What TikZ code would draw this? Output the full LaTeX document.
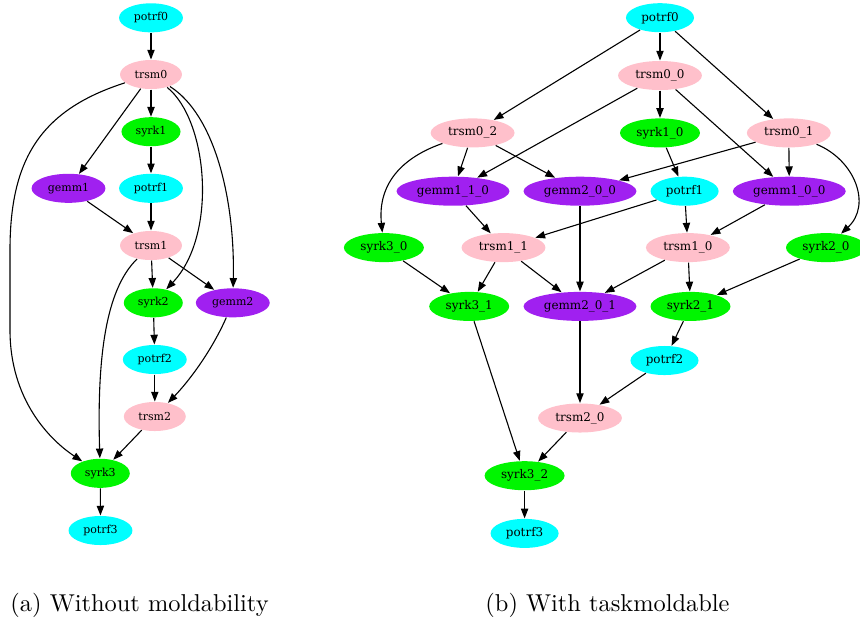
\documentclass[tikz,border=0pt]{standalone}
\usepackage{fontspec}
\newfontfamily\taskfont{DejaVu Serif}
\usetikzlibrary{shapes.geometric, arrows.meta}

\definecolor{potrfcolor}{RGB}{0,255,255}
\definecolor{trsmcolor}{RGB}{255,192,203}
\definecolor{syrkcolor}{RGB}{0,245,0}
\definecolor{gemmcolor}{RGB}{160,32,240}

\tikzstyle{task} = [ellipse, inner sep = 0pt, minimum height = 11.9pt]
\tikzstyle{potrf} = [task, fill = potrfcolor]
\tikzstyle{trsm} = [task, fill = trsmcolor]
\tikzstyle{syrk} = [task, fill = syrkcolor]
\tikzstyle{gemm} = [task, fill = gemmcolor]
\tikzstyle{arrow} = [line width = 0.45pt, -{Triangle[length = 4pt, width = 3pt]}]

\begin{document}
\begin{tikzpicture}[x = 0.41pt, y = -0.41pt]

\useasboundingbox (0,0) rectangle (860,624);

% (a) without moldability
\begin{scope}[font = \taskfont\fontsize{4.5}{5}\selectfont,
	potrf/.append style = {minimum width = 26.2pt},
	trsm/.append style = {minimum width = 25.4pt},
	syrk/.append style = {minimum width = 24.2pt},
	gemm/.append style = {minimum width = 30.3pt}]

\node (Apotrf0) [potrf] at (151,17.8) {potrf0};
\node (Atrsm0) [trsm] at (151,74.5) {trsm0};
\node (Asyrk1) [syrk] at (151,131.7) {syrk1};
\node (Agemm1) [gemm] at (68.5,188.3) {gemm1};
\node (Apotrf1) [potrf] at (151,188.3) {potrf1};
\node (Atrsm1) [trsm] at (151,245.5) {trsm1};
\node (Asyrk2) [syrk] at (153.3,302.8) {syrk2};
\node (Agemm2) [gemm] at (232.8,302.8) {gemm2};
\node (Apotrf2) [potrf] at (154.8,359.5) {potrf2};
\node (Atrsm2) [trsm] at (154.8,416.5) {trsm2};
\node (Asyrk3) [syrk] at (100.3,473.3) {syrk3};
\node (Apotrf3) [potrf] at (100.5,530.5) {potrf3};

\draw [arrow] (Apotrf0) -- (Atrsm0);
\draw [arrow] (Atrsm0) -- (Asyrk1);
\draw [arrow] (Atrsm0) -- (Agemm1);
\draw [arrow] (Atrsm0) .. controls (40,110) and (10,160) .. (10,250)
	-- (10,330) .. controls (10,400) and (50,440) .. (Asyrk3);
\draw [arrow] (Atrsm0) .. controls (208,120) and (218,235) .. (Asyrk2);
\draw [arrow] (Atrsm0) .. controls (215,115) and (235,200) .. (Agemm2);
\draw [arrow] (Asyrk1) -- (Apotrf1);
\draw [arrow] (Agemm1) -- (Atrsm1);
\draw [arrow] (Apotrf1) -- (Atrsm1);
\draw [arrow] (Atrsm1) -- (Asyrk2);
\draw [arrow] (Atrsm1) -- (Agemm2);
\draw [arrow] (Atrsm1) .. controls (105,290) and (97,360) .. (Asyrk3);
\draw [arrow] (Asyrk2) -- (Apotrf2);
\draw [arrow] (Apotrf2) -- (Atrsm2);
\draw [arrow] (Agemm2) .. controls (212,350) and (190,380) .. (Atrsm2);
\draw [arrow] (Atrsm2) -- (Asyrk3);
\draw [arrow] (Asyrk3) -- (Apotrf3);
\end{scope}

% (b) with taskmoldable
\begin{scope}[font = \taskfont\fontsize{4.9}{5.5}\selectfont,
	potrf/.append style = {minimum width = 27.9pt},
	trsm/.append style = {minimum width = 34.4pt},
	syrk/.append style = {minimum width = 32.8pt},
	gemm/.append style = {minimum width = 46.3pt}]

\node (Bpotrf0) [potrf] at (660,17.7) {potrf0};
\node (Btrsm00) [trsm] at (660,75.5) {trsm0\_0};
\node (Btrsm02) [trsm] at (472.6,132.9) {trsm0\_2};
\node (Bsyrk10) [syrk] at (660,132.9) {syrk1\_0};
\node (Btrsm01) [trsm] at (788.8,132.9) {trsm0\_1};
\node (Bgemm110) [gemm] at (453,191.2) {gemm1\_1\_0};
\node (Bgemm200) [gemm] at (580,191.2) {gemm2\_0\_0};
\node (Bpotrf1) [potrf] at (684.6,191.2) {potrf1};
\node (Bgemm100) [gemm] at (789.3,191.2) {gemm1\_0\_0};
\node (Bsyrk30) [syrk] at (383.9,247.6) {syrk3\_0};
\node (Btrsm11) [trsm] at (503.5,247.6) {trsm1\_1};
\node (Btrsm10) [trsm] at (687.9,247.6) {trsm1\_0};
\node (Bsyrk20) [syrk] at (826,247.6) {syrk2\_0};
\node (Bsyrk31) [syrk] at (469.2,306.4) {syrk3\_1};
\node (Bgemm201) [gemm] at (580,306.4) {gemm2\_0\_1};
\node (Bsyrk21) [syrk] at (690.5,306.4) {syrk2\_1};
\node (Bpotrf2) [potrf] at (664.5,360.5) {potrf2};
\node (Btrsm20) [trsm] at (580,418) {trsm2\_0};
\node (Bsyrk32) [syrk] at (524.6,475.7) {syrk3\_2};
\node (Bpotrf3) [potrf] at (524.6,533.4) {potrf3};

\draw [arrow] (Bpotrf0) -- (Btrsm02);
\draw [arrow] (Bpotrf0) -- (Btrsm00);
\draw [arrow] (Bpotrf0) -- (Btrsm01);
\draw [arrow] (Btrsm00) -- (Bgemm110);
\draw [arrow] (Btrsm00) -- (Bsyrk10);
\draw [arrow] (Btrsm00) -- (Bgemm100);
\draw [arrow] (Btrsm02) -- (Bgemm110);
\draw [arrow] (Btrsm02) -- (Bgemm200);
\draw [arrow] (Btrsm02) .. controls (395,160) and (378,190) .. (Bsyrk30);
\draw [arrow] (Btrsm01) -- (Bgemm200);
\draw [arrow] (Btrsm01) -- (Bgemm100);
\draw [arrow] (Btrsm01) .. controls (855,160) and (872,205) .. (Bsyrk20);
\draw [arrow] (Bsyrk10) -- (Bpotrf1);
\draw [arrow] (Bgemm110) -- (Btrsm11);
\draw [arrow] (Bgemm200) -- (Bgemm201);
\draw [arrow] (Bpotrf1) -- (Btrsm11);
\draw [arrow] (Bpotrf1) -- (Btrsm10);
\draw [arrow] (Bgemm100) -- (Btrsm10);
\draw [arrow] (Bsyrk30) -- (Bsyrk31);
\draw [arrow] (Btrsm11) -- (Bsyrk31);
\draw [arrow] (Btrsm11) -- (Bgemm201);
\draw [arrow] (Btrsm10) -- (Bgemm201);
\draw [arrow] (Btrsm10) -- (Bsyrk21);
\draw [arrow] (Bsyrk20) -- (Bsyrk21);
\draw [arrow] (Bsyrk31) -- (Bsyrk32);
\draw [arrow] (Bgemm201) -- (Btrsm20);
\draw [arrow] (Bsyrk21) -- (Bpotrf2);
\draw [arrow] (Bpotrf2) -- (Btrsm20);
\draw [arrow] (Btrsm20) -- (Bsyrk32);
\draw [arrow] (Bsyrk32) -- (Bpotrf3);
\end{scope}

% captions
\node (capA) [anchor = base west, inner sep = 0pt] at (10,611) {(a) Without moldability};
\node (capB) [anchor = base west, inner sep = 0pt] at (485,611) {(b) With taskmoldable};

\end{tikzpicture}
\end{document}
